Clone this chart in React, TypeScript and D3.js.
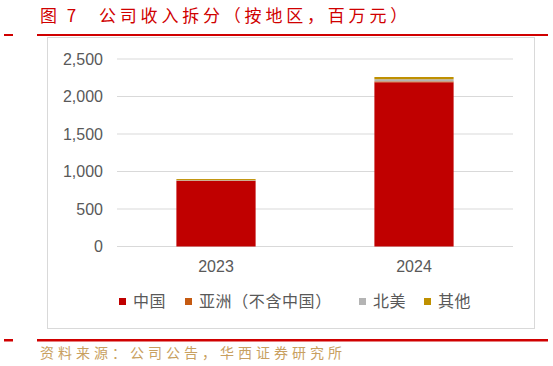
import React from 'react';
import * as d3 from 'd3';

const years = ['2023', '2024'];
const china = [875, 2190];
const asiaExChina = [4, 12];
const northAmerica = [6, 28];
const others = [14, 30];
const yTicks = [0, 500, 1000, 1500, 2000, 2500];

const seriesNames = ['中国', '亚洲（不含中国）', '北美', '其他'];
const seriesColors = ['#c00000', '#c55a11', '#b4b4b4', '#bf9000'];

const W = 553;
const H = 366;
const red = '#d00000';
const cjk = '"Noto Sans CJK SC", sans-serif';
const latin = '"Liberation Sans", Arial, sans-serif';

export default function App() {
  const rows = years.map((y, i) => ({
    year: y,
    s0: china[i],
    s1: asiaExChina[i],
    s2: northAmerica[i],
    s3: others[i],
  }));
  const stack = d3.stack<any>().keys(['s0', 's1', 's2', 's3'])(rows);

  const x = d3.scaleBand().domain(years).range([117, 513]).paddingInner(0.6).paddingOuter(0.3);
  const y = d3.scaleLinear().domain([0, 2500]).range([246.5, 59]);

  // legend layout
  const legendX = [119, 185, 359, 424];

  return (
    <svg width={W} height={H} style={{ position: 'fixed', left: 0, top: 0, background: '#fff' }}>
      {/* title */}
      <text x={40} y={22} fill={red} fontFamily={cjk} fontSize={17} letterSpacing={3}>
        图 7
      </text>
      <text x={99} y={22} fill={red} fontFamily={cjk} fontSize={17} letterSpacing={3.8}>
        公司收入拆分（按地区，百万元）
      </text>
      <rect x={4} y={34} width={9} height={2} fill={red} />
      <rect x={37} y={34} width={511} height={2} fill={red} />

      {/* chart frame */}
      <rect x={47.5} y={37.5} width={487} height={291} fill="#fff" stroke="#d9d9d9" strokeWidth={1} />

      {/* grid + y labels */}
      {yTicks.map(t => (
        <g key={t}>
          <line x1={117} x2={513} y1={y(t)} y2={y(t)} stroke="#d9d9d9" strokeWidth={1} />
          <text x={103} y={y(t)} dy="0.36em" textAnchor="end" fill="#595959" fontFamily={latin} fontSize={16}>
            {d3.format(',')(t)}
          </text>
        </g>
      ))}

      {/* bars */}
      {stack.map((layer, k) => (
        <g key={k} fill={seriesColors[k]}>
          {layer.map((d, i) => (
            <rect
              key={i}
              x={x(years[i])}
              width={x.bandwidth()}
              y={y(d[1])}
              height={Math.max(0, y(d[0]) - y(d[1]))}
            />
          ))}
        </g>
      ))}

      {/* x labels */}
      {years.map(yr => (
        <text key={yr} x={(x(yr) as number) + x.bandwidth() / 2} y={266} dy="0.36em" textAnchor="middle"
          fill="#595959" fontFamily={latin} fontSize={16}>
          {yr}
        </text>
      ))}

      {/* legend */}
      {seriesNames.map((n, i) => (
        <g key={n}>
          <rect x={legendX[i]} y={298} width={7} height={7} fill={seriesColors[i]} />
          <text x={legendX[i] + 14} y={301.5} dy="0.36em" fill="#595959" fontFamily={cjk} fontSize={16} letterSpacing={0.6}>
            {n}
          </text>
        </g>
      ))}

      {/* footer */}
      <rect x={4} y={339} width={9} height={2.5} fill={red} />
      <rect x={37} y={339} width={511} height={2.5} fill={red} />
      <text x={40} y={358} fill="#c8a060" fontFamily={cjk} fontSize={14} letterSpacing={4}>
        资料来源：公司公告，华西证券研究所
      </text>
    </svg>
  );
}
